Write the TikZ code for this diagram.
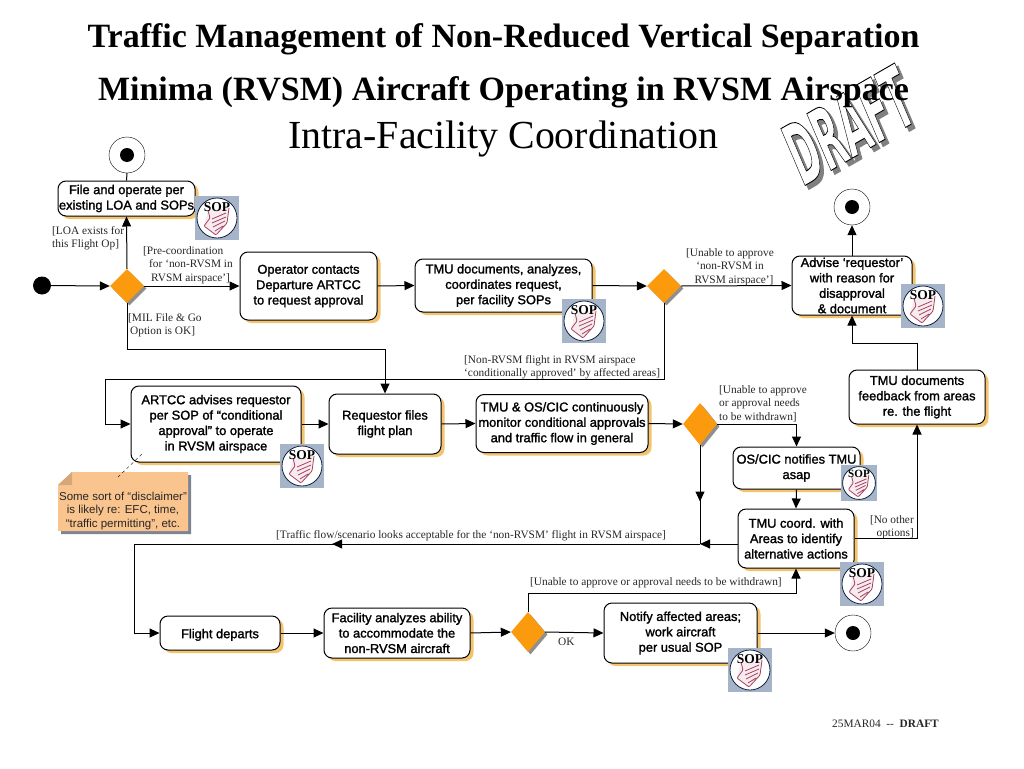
\documentclass[tikz,border=0pt]{standalone}
\usepackage{fontspec}
\setmainfont{Liberation Serif}
\newfontfamily\boxfamily{Liberation Sans}
\newfontfamily\stampfamily{DejaVu Sans}
\usepackage{xcolor}
\usepackage{tikz}
\usetikzlibrary{shapes.geometric,shadows,calc,decorations.markings,arrows.meta}
\definecolor{boxshade}{HTML}{F4C36E}
\definecolor{diafill}{HTML}{FB9A0C}
\definecolor{diashade}{HTML}{8F8F8F}
\definecolor{notefill}{HTML}{FAC48E}
\definecolor{noteshade}{HTML}{7F8590}
\definecolor{iconback}{HTML}{A6B4C9}
\definecolor{iconring}{HTML}{14213F}
\definecolor{iconink}{HTML}{A8415F}
\newcommand{\boxfont}{\boxfamily\fontsize{12.85}{15.4}\selectfont}
\newcommand{\guardfont}{\fontsize{11.35}{13.7}\selectfont}
\newcommand{\boxhalo}{\special{pdf:code 2 Tr 0.2 w 0.6 0.6 0.6 RG}}
\newcommand{\boxlift}{\rule{0pt}{13pt}}
\newcommand{\outlined}[1]{\special{pdf:code q 2 Tr 0.9 w 1 1 1 rg 0 0 0 RG}#1\special{pdf:code Q}}
\newcommand{\shaded}[1]{\special{pdf:code q 2 Tr 2 w 0.5 0.5 0.5 rg 0.5 0.5 0.5 RG}#1\special{pdf:code Q}}
\tikzset{
    actbox/.style={draw=black, line width=1pt, fill=white, rounded corners=8pt, align=center, font=\boxfont,
        inner sep=0pt, text=black, execute at begin node={\boxhalo\boxlift},
        general shadow={fill=boxshade, shadow xshift=3.5pt, shadow yshift=-3pt, draw=none}},
    choice/.style={diamond, fill=diafill, inner sep=0pt, minimum width=34pt,
        general shadow={fill=diashade, shadow xshift=2.5pt, shadow yshift=-2.5pt}},
    guard/.style={font=\guardfont, align=left, inner sep=0pt, anchor=north west, text=black!85},
    stamptext/.style={font=\stampfamily\bfseries\fontsize{84}{84}\selectfont, inner sep=0pt, rotate=30, xslant=0.12, xscale=.43},
    startdot/.style={circle, fill=black, inner sep=0pt, minimum size=18pt},
    enddot/.style={circle, draw=black, fill=white, inner sep=0pt, minimum size=36pt},
    endcore/.style={circle, fill=black, inner sep=0pt, minimum size=14pt},
    flow/.style={line width=1pt, -{Triangle[length=10pt,width=9pt]}},
    plainflow/.style={line width=1pt},
    midtip/.style={postaction={decorate}, decoration={markings,
        mark=at position #1 with {\arrow{Triangle[length=10pt,width=9pt]}}}},
    sopicon/.pic={
        \fill[iconback] (-22,-22) rectangle (22,22);
        \draw[iconring, thick, fill=white] (0,0) circle (20);
        \fill[iconink!10] (-9,-8) -- (12,-10) -- (10,5) -- (-1,17) -- (-13,8) -- cycle;
        \draw[iconink, line width=0.8pt, rounded corners=1pt]
            (-9,-8) -- (-7,0) -- (-13,8) -- (-1,17) -- (10,5) -- (12,-10)
            (-5,1) -- (9,-5) (-5,5) -- (9,-1) (-4,9) -- (8,3) (-2,13) -- (6,8);
        \node[font=\bfseries\fontsize{13.5}{14}\selectfont, inner sep=0pt, text=black] (-tag) at (0,-11) {SOP};
    },
}
\begin{document}
\begin{tikzpicture}[x=1pt,y=-1pt]
    \useasboundingbox (0,0) rectangle (1024,768);

    % stamp
    \node[stamptext] (stamp0) at (852,128.5) {\shaded{DRAFT}};
    \node[stamptext] (stamp) at (848.5,125) {\outlined{DRAFT}};

    % headings
    \node[font=\bfseries\fontsize{34}{36}\selectfont, inner sep=0pt] (title1) at (503.5,39) {Traffic Management of Non-Reduced Vertical Separation};
    \node[font=\bfseries\fontsize{34}{36}\selectfont, inner sep=0pt] (title2) at (503.5,92) {Minima (RVSM) Aircraft Operating in RVSM Airspace};
    \node[font=\fontsize{39.8}{42}\selectfont, inner sep=0pt] (title3) at (503.5,139) {Intra-Facility Coordination};

    % activities
    \node[actbox, minimum width=137pt, minimum height=35pt] (file) at (126.5,198.5) {File and operate per\\existing LOA and SOPs};
    \node[actbox, minimum width=137pt, minimum height=68pt] (oper) at (308.5,286) {Operator contacts\\Departure ARTCC\\to request approval};
    \node[actbox, minimum width=177pt, minimum height=53pt] (tmud) at (503.5,285.5) {TMU documents, analyzes,\\coordinates request,\\per facility SOPs};
    \node[actbox, minimum width=120pt, minimum height=59pt, execute at begin node={\boxhalo}] (advise) at (852,285.5) {Advise ‘requestor’\\with reason for\\disapproval\\\& document};
    \node[actbox, minimum width=136pt, minimum height=54pt] (feed) at (917,397) {TMU documents\\feedback from areas\\re. the flight};
    \node[actbox, minimum width=170pt, minimum height=76pt] (artcc) at (216,424) {ARTCC advises requestor\\per SOP of “conditional\\approval” to operate\\in RVSM airspace};
    \node[actbox, minimum width=112pt, minimum height=60pt] (req) at (385,424) {Requestor files\\flight plan};
    \node[actbox, minimum width=172pt, minimum height=58pt] (mon) at (562,423.5) {TMU \& OS/CIC continuously\\monitor conditional approvals\\and traffic flow in general};
    \node[actbox, minimum width=127pt, minimum height=42pt] (notif) at (796.5,468) {OS/CIC notifies TMU\\asap};
    \node[actbox, minimum width=116pt, minimum height=59pt] (coord) at (796,538.5) {TMU coord. with\\Areas to identify\\alternative actions};
    \node[actbox, minimum width=120pt, minimum height=34pt] (fly) at (220,633) {Flight departs};
    \node[actbox, minimum width=146pt, minimum height=50pt] (fac) at (397,633) {Facility analyzes ability\\to accommodate the\\non-RVSM aircraft};
    \node[actbox, minimum width=153pt, minimum height=60pt] (work) at (680.5,633) {Notify affected areas;\\work aircraft\\per usual SOP};

    % decisions
    \node[choice, minimum height=34pt] (d1) at (127,286) {};
    \node[choice, minimum height=34pt] (d2) at (664,286) {};
    \node[choice, minimum height=42pt] (d3) at (700,424) {};
    \node[choice, minimum height=40pt] (d4) at (528,632) {};

    % start and ends
    \node[startdot] (start) at (42,285.5) {};
    \node[enddot] (end1) at (127,155) {};
    \node[enddot] (end2) at (852,207) {};
    \node[enddot] (end3) at (853,633) {};
    \node[endcore] (core1) at (end1) {};
    \node[endcore] (core2) at (end2) {};
    \node[endcore] (core3) at (end3) {};

    % bends
    \coordinate (milbend) at (385,349);
    \coordinate (condbend) at (105,379);
    \coordinate (merge) at (700,544);
    \coordinate (backbend) at (134,544);
    \coordinate (withbend) at (796,593);
    \coordinate (feedbend) at (852,343);

    % connectors
    \draw[flow] (start) -- (d1.west);
    \draw[flow] (d1.north) -- (file.south);
    \draw[plainflow] (file.north) -- (end1.south);
    \draw[flow] (d1.east) -- (oper.west);
    \draw[flow] (oper.east) -- (tmud.west);
    \draw[flow] (tmud.east) -- (d2.west);
    \draw[flow] (d2.east) -- (advise.west);
    \draw[flow] (advise.north) -- (end2.south);
    \draw[flow] (d1.south) |- (milbend) -- (req.north);
    \draw[flow] (d2.south) |- (condbend) |- (artcc.west);
    \draw[flow] (artcc.east) -- (req.west);
    \draw[flow] (req.east) -- (mon.west);
    \draw[flow] (mon.east) -- (d3.west);
    \draw[flow] (d3.east) -| (notif.north);
    \draw[flow] (notif.south) -- (coord.north);
    \draw[plainflow, midtip=.57] (d3.south) -- (merge);
    \draw[flow] (coord.west |- merge) -- (merge);
    \draw[plainflow, midtip=.65] (merge) -- (backbend);
    \draw[flow] (backbend) |- (fly.west);
    \draw[flow] (fly.east) -- (fac.west);
    \draw[flow] (fac.east) -- (d4.west);
    \draw[flow] (d4.east) -- (work.west);
    \draw[flow] (work.east) -- (end3.west);
    \draw[flow] (d4.north) |- (withbend) -- (coord.south);
    \draw[flow] (coord.east) -| (feed.south);
    \draw[flow] (feed.north) |- (feedbend) -- (advise.south);

    % note
    \fill[noteshade] (75,475) -- (191,475) -- (191,534) -- (61,534) -- (61,488) -- cycle;
    \fill[notefill] (72,472) -- (188,472) -- (188,531) -- (58,531) -- (58,485) -- cycle;
    \fill[notefill!85!black] (72,472) -- (72,485) -- (58,485) -- cycle;
    \node[font=\boxfamily\fontsize{11.5}{13.5}\selectfont, align=center, inner sep=0pt, text=black!85] (note) at (123,511) {Some sort of “disclaimer”\\is likely re: EFC, time,\\“traffic permitting”, etc.};
    \coordinate (noteend) at (118,477);
    \coordinate (artfoot) at (144,452);
    \draw[dashed, thin] (noteend) -- (artfoot);

    % guards
    \node[guard] (g1) at (52,226) {[LOA exists for\\this Flight Op]};
    \node[guard] (g2) at (143,246) {[Pre-coordination\\\hspace*{6pt}for ‘non-RVSM in\\\hspace*{8pt}RVSM airspace’]};
    \node[guard] (g3) at (128,313) {[MIL File \& Go\\\hspace*{2pt}Option is OK]};
    \node[guard, align=center] (g4) at (686,248) {[Unable to approve\\‘non-RVSM in\\\hspace*{8pt}RVSM airspace’]};
    \node[guard] (g5) at (464,355) {[Non-RVSM flight in RVSM airspace\\‘conditionally approved’ by affected areas]};
    \node[guard] (g6) at (719,385) {[Unable to approve\\or approval needs\\to be withdrawn]};
    \node[guard, align=right, anchor=north east] (g7) at (914,515) {[No other\\options]};
    \node[guard] (g8) at (276,530) {[Traffic flow/scenario looks acceptable for the ‘non-RVSM’ flight in RVSM airspace]};
    \node[guard] (g9) at (530,577) {[Unable to approve or approval needs to be withdrawn]};
    \node[guard] (g10) at (558,638) {OK};
    \node[guard] (stampline) at (832,720) {25MAR04\ \ {-}{-}\ \ \textbf{DRAFT}};

    % procedure icons
    \foreach \n/\x/\y/\s in {a/217/218/1, b/584/321/1, c/923/306/1, d/302/466/1, e/859/483/.82, f/862/584/1, g/750/670/1} {
        \pic[scale=\s, transform shape] (sop\n) at (\x,\y) {sopicon};
    }
\end{tikzpicture}
\end{document}
